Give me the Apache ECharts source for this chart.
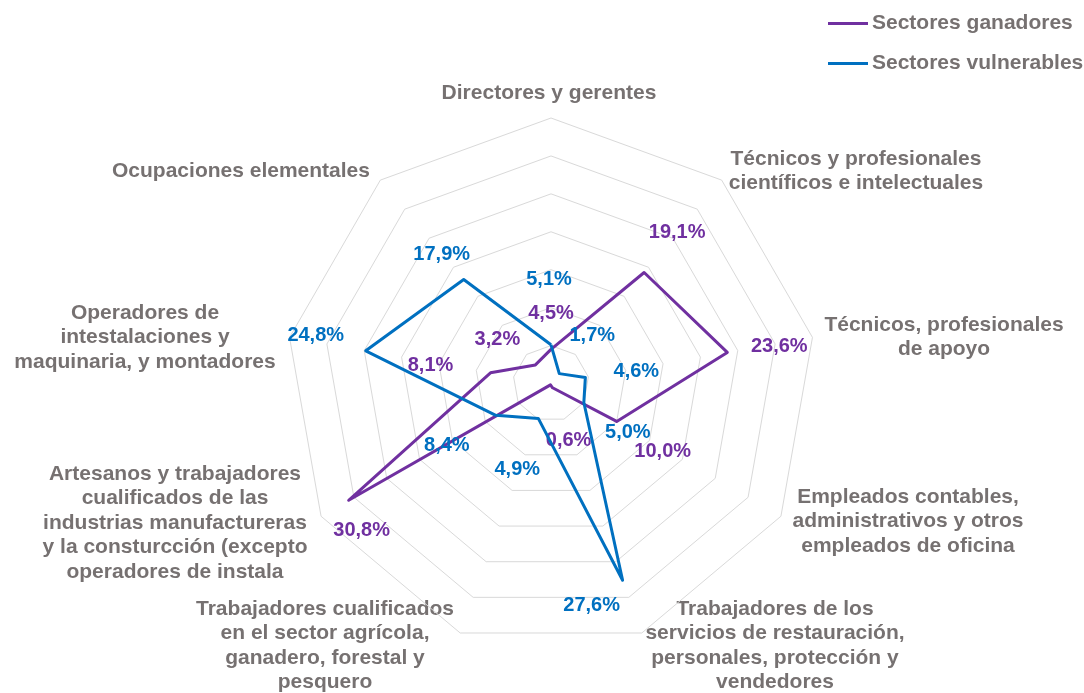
<!DOCTYPE html>
<html>
<head>
<meta charset="utf-8">
<script src="https://cdn.jsdelivr.net/npm/echarts@6/dist/echarts.min.js"></script>
<style>
html,body{margin:0;padding:0;background:#fff;}
#chart{width:1084px;height:693px;}
</style>
</head>
<body>
<div id="chart"></div>
<script>
// ---- data (clockwise from the top) ----
const categories = [
  'Directores y gerentes',
  'Técnicos y profesionales\ncientíficos e intelectuales',
  'Técnicos, profesionales\nde apoyo',
  'Empleados contables,\nadministrativos y otros\nempleados de oficina',
  'Trabajadores de los\nservicios de restauración,\npersonales, protección y\nvendedores',
  'Trabajadores cualificados\nen el sector agrícola,\nganadero, forestal y\npesquero',
  'Artesanos y trabajadores\ncualificados de las\nindustrias manufactureras\ny la consturcción (excepto\noperadores de instala',
  'Operadores de\nintestalaciones y\nmaquinaria, y montadores',
  'Ocupaciones elementales'
];
const seriesNames = ['Sectores ganadores', 'Sectores vulnerables'];
const ganadores   = [4.5, 19.1, 23.6, 10.0, 0.6, 0.2, 30.8, 8.1, 3.2];
const vulnerables = [5.1, 1.7, 4.6, 5.0, 27.6, 4.9, 8.4, 24.8, 17.9];
const axisMax = 35;
const axisSplits = 7;

// ---- layout / style ----
const colors = ['#7030A0', '#0070C0'];
const textColor = '#767171';
const fontFamily = '"Liberation Sans", Arial, sans-serif';
const cx = 551, cy = 383.5, R = 265.5;
// label offsets (px) from each vertex, clockwise order; null = no label
const labelOffsets = [
  [[0,-36],[33,-40],[52,-6],[46,30],[16,53],null,[13,30],[-60,-7],[-38,-25]],
  [[-2,-65],[33,-38],[51,-6],[44,30],[-31,25],[-21,51],[-49,30],[-50,-15],[-22,-25]]
];
// first-line centre of each category name
const namePos = [[549,93],[856,159],[944,325],[908,497],[775,609],[325,609],[175,474],[145,313],[241,171]];
const nameLineHeight = 24.5;

// ECharts radar runs counter-clockwise: reorder so the picture reads clockwise
const n = categories.length;
const order = [0];
for (let i = n - 1; i >= 1; i--) order.push(i);

const fmt = v => v.toFixed(1).replace('.', ',') + '%';
const allValues = [ganadores, vulnerables];

function makeSeries(si) {
  const vals = allValues[si];
  const offs = labelOffsets[si];
  const texts = vals.map(fmt);
  return {
    type: 'radar',
    name: seriesNames[si],
    symbol: 'circle',
    symbolSize: 1,
    lineStyle: { color: colors[si], width: 3 },
    itemStyle: { color: colors[si] },
    z: 3 + si,
    label: {
      show: true,
      position: 'inside',
      color: colors[si],
      fontSize: 20,
      fontWeight: 'bold',
      fontFamily: fontFamily,
      formatter: p => {
        const v = p.value;
        const i = vals.indexOf(v);
        if (i < 0 || !offs[i]) return '';
        return fmt(v);
      }
    },
    labelLayout: params => {
      const i = texts.indexOf(params.text);
      if (i < 0 || !offs[i]) return {};
      const r = params.rect;
      return {
        x: r.x + r.width / 2 + offs[i][0],
        y: r.y + r.height / 2 + offs[i][1],
        align: 'center',
        verticalAlign: 'middle'
      };
    },
    data: [{ name: seriesNames[si], value: order.map(k => vals[k]) }]
  };
}

const chart = echarts.init(document.getElementById('chart'), null, { renderer: 'canvas' });
chart.setOption({
  backgroundColor: '#ffffff',
  animation: false,
  legend: {
    orient: 'vertical',
    left: 828,
    top: 13,
    padding: 0,
    itemWidth: 40,
    itemHeight: 3,
    itemGap: 19,
    icon: 'rect',
    data: seriesNames,
    textStyle: { color: textColor, fontSize: 21, fontWeight: 'bold', fontFamily: fontFamily, lineHeight: 20, padding: [0,0,0,-1] }
  },
  radar: {
    center: [cx, cy],
    radius: R,
    startAngle: 90,
    splitNumber: axisSplits,
    shape: 'polygon',
    indicator: order.map(k => ({ name: categories[k], min: 0, max: axisMax })),
    axisName: { show: false },
    splitLine: { lineStyle: { color: '#D9D9D9', width: 1 } },
    splitArea: { show: false },
    axisLine: { show: false },
    axisTick: { show: false },
    axisLabel: { show: false }
  },
  graphic: categories.map((c, i) => ({
    type: 'text',
    x: namePos[i][0],
    y: namePos[i][1] - nameLineHeight / 2,
    silent: true,
    style: {
      text: c,
      fill: textColor,
      fontSize: 21,
      fontWeight: 'bold',
      fontFamily: fontFamily,
      align: 'center',
      verticalAlign: 'top',
      lineHeight: nameLineHeight
    }
  })),
  series: [makeSeries(0), makeSeries(1)]
});
</script>
</body>
</html>
